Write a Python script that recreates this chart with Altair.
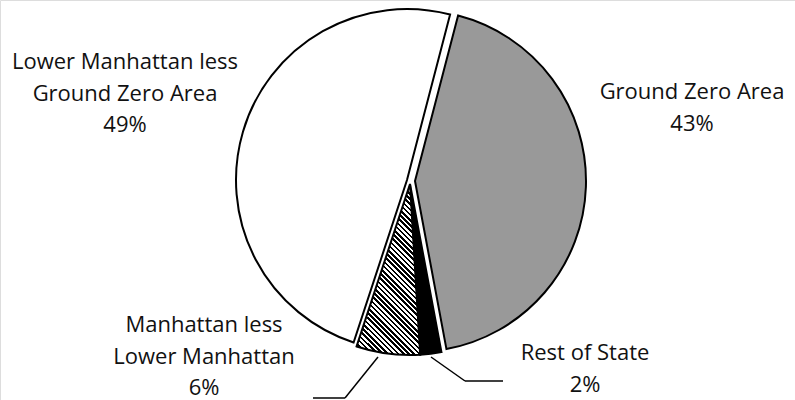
import math

import altair as alt
import pandas as pd

# Share of the total, clockwise from the top of the pie
categories = [
    "Ground Zero Area",
    "Rest of State",
    "Manhattan less Lower Manhattan",
    "Lower Manhattan less Ground Zero Area",
]
label_lines = [
    "Ground Zero Area",
    "Rest of State",
    "Manhattan less\nLower Manhattan",
    "Lower Manhattan less\nGround Zero Area",
]
shares = [43, 2, 6, 49]

df = pd.DataFrame(
    {
        "category": categories,
        "label": label_lines,
        "share": shares,
        "order": list(range(len(categories))),
    }
)

# ---- layout / style ----------------------------------------------------------
W, H = 795, 400
RADIUS = 171
START = math.radians(14.6)
FONT = "Open Sans"
FONT_SIZE = 22
LINE_HEIGHT = 31.5


def hatch_fill(w, h, period=5.2, ink="#000000", paper="#ffffff"):
    """Diagonal stripes running down-right, built as a hard-stop linear gradient
    over a slice whose bounding box is w x h pixels."""
    k = (w + h) / (w * w + h * h)
    span = w + h
    n = int(span / period) + 1
    stops = []
    for i in range(n):
        a = min(1.0, i * period / span)
        b = min(1.0, (i + 0.5) * period / span)
        c = min(1.0, (i + 1) * period / span)
        stops += [
            {"offset": a, "color": ink},
            {"offset": b, "color": ink},
            {"offset": b, "color": paper},
            {"offset": c, "color": paper},
        ]
    return {
        "gradient": "linear",
        "x1": 0,
        "y1": 1,
        "x2": w * k,
        "y2": 1 - h * k,
        "stops": stops,
    }


# exploded centre and fill of each slice
slice_style = {
    "Ground Zero Area": {"center": (415, 181), "fill": "#999999"},
    "Rest of State": {"center": (410, 184), "fill": "#000000"},
    "Manhattan less Lower Manhattan": {"center": (410, 184), "fill": hatch_fill(63.5, 171)},
    "Lower Manhattan less Ground Zero Area": {"center": (407, 180), "fill": "#ffffff"},
}

# first-line baseline anchor of each label
label_pos = {
    "Ground Zero Area": (692, 99),
    "Rest of State": (585, 360),
    "Manhattan less Lower Manhattan": (204, 332),
    "Lower Manhattan less Ground Zero Area": (125, 69),
}

# elbow leader lines for the two small slices
leaders = [
    [(378, 357), (345, 398), (313, 398)],
    [(431, 357), (465, 381), (503, 381)],
]

theta_scale = alt.Scale(domain=[0, 100], range=[START, START + 2 * math.pi])

base = (
    alt.Chart(df)
    .transform_window(end="sum(share)", sort=[alt.SortField("order")], frame=[None, 0])
    .transform_calculate(
        start="datum.end - datum.share",
        text="datum.label + '\\n' + datum.share + '%'",
    )
)

layers = []
for cat in categories:
    st = slice_style[cat]
    cx, cy = st["center"]
    layers.append(
        base.transform_filter(alt.datum.category == cat)
        .mark_arc(
            radius=RADIUS,
            fill=st["fill"],
            stroke="#000000",
            strokeWidth=2,
            strokeJoin="miter",
        )
        .encode(
            theta=alt.Theta("start:Q", scale=theta_scale, stack=None),
            theta2="end:Q",
            x=alt.value(cx),
            y=alt.value(cy),
        )
    )

for pts in leaders:
    for (x0, y0), (x1, y1) in zip(pts[:-1], pts[1:]):
        layers.append(
            alt.Chart(df)
            .transform_filter(alt.datum.order == 0)
            .mark_rule(color="#000000", strokeWidth=1.5)
            .encode(x=alt.value(x0), y=alt.value(y0), x2=alt.value(x1), y2=alt.value(y1))
        )

for cat in categories:
    lx, ly = label_pos[cat]
    layers.append(
        base.transform_filter(alt.datum.category == cat)
        .mark_text(
            font=FONT,
            fontSize=FONT_SIZE,
            lineBreak="\n",
            lineHeight=LINE_HEIGHT,
            align="center",
            baseline="alphabetic",
            color="#111111",
        )
        .encode(text="text:N", x=alt.value(lx), y=alt.value(ly))
    )

chart = (
    alt.layer(*layers)
    .properties(width=W, height=H, padding=0, autosize=alt.AutoSizeParams(type="none"))
    .configure_view(stroke=None)
    .configure(background="#ffffff")
)

chart.save("out.html", embed_options={"renderer": "svg", "actions": False})
